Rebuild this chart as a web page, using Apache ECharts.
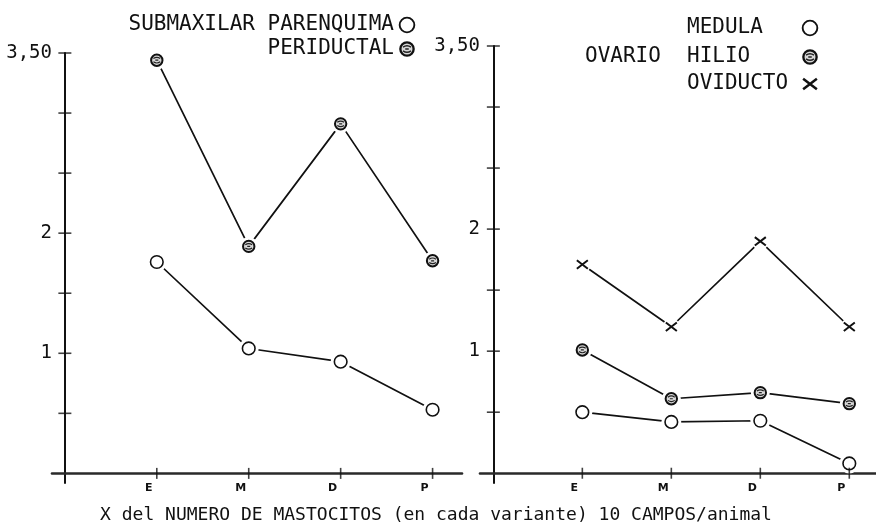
<!DOCTYPE html>
<html>
<head>
<meta charset="utf-8">
<script src="https://cdn.jsdelivr.net/npm/echarts@6/dist/echarts.min.js"></script>
<style>html,body{margin:0;padding:0;background:#fff;}#chart{width:876px;height:530px;}</style>
</head>
<body>
<div id="chart"></div>
<script>
// ---- data ----
const categories = ['E', 'M', 'D', 'P'];
const categoryPos = [1, 2, 3, 4];
// Submaxilar
const parenquima = [1.76, 1.04, 0.93, 0.53];
const periductal = [3.44, 1.89, 2.91, 1.77];
// Ovario
const medula = [0.50, 0.42, 0.43, 0.08];
const hilio = [1.01, 0.61, 0.66, 0.57];
const oviducto = [1.71, 1.20, 1.90, 1.20];
// axis ticks / labels
const yTickValues = [0.5, 1, 1.5, 2, 2.5, 3, 3.5];
const yLabelValues = [1, 2, 3.5];
const yLabelTexts = ['1', '2', '3,50'];
const caption = 'X del NUMERO DE MASTOCITOS (en cada variante) 10 CAMPOS/animal';

// ---- symbols ----
function svgUrl(s) { return 'image://data:image/svg+xml;utf8,' + encodeURIComponent(s); }
const openSym = svgUrl("<svg xmlns='http://www.w3.org/2000/svg' width='24' height='24' viewBox='0 0 24 24'><circle cx='12' cy='12' r='10' fill='white'/><circle cx='12' cy='12' r='6.3' fill='white' stroke='#111' stroke-width='1.6'/></svg>");
const hatchSym = svgUrl("<svg xmlns='http://www.w3.org/2000/svg' width='24' height='24' viewBox='0 0 24 24'><circle cx='12' cy='12' r='9.5' fill='white'/><circle cx='12' cy='12' r='5.7' fill='#d8d8d8' stroke='#111' stroke-width='2'/><path d='M8.6 10.4 q3.4 -2.4 6.8 0 M8.6 13.6 q3.4 2.4 6.8 0 M10.5 12 h3' stroke='#222' stroke-width='1.2' fill='none'/></svg>");
const crossSym = svgUrl("<svg xmlns='http://www.w3.org/2000/svg' width='24' height='24' viewBox='0 0 24 24'><circle cx='12' cy='12' r='8.5' fill='white'/><path d='M6.5 7.8 L17.5 16.2 M6.5 16.2 L17.5 7.8' stroke='#111' stroke-width='2' fill='none'/></svg>");

const FONT = "'DejaVu Sans Mono', monospace";
const ink = '#111';

function pairs(vals) { return vals.map((v, i) => [categoryPos[i], v]); }

function xAxis(grid, min, max) {
  return {
    gridIndex: grid, type: 'value', min: min, max: max, splitLine: { show: false },
    position: 'bottom',
    axisLine: { show: true, onZero: true, lineStyle: { color: '#2a2a2a', width: 2.6 } },
    axisTick: { show: false },
    axisLabel: { show: true, customValues: categoryPos, formatter: v => categories[Math.round(v) - 1] || '',
      fontFamily: 'DejaVu Sans', fontWeight: 'bold', fontSize: 11, color: ink, margin: 0, padding: [0, 16, 0, 0] }
  };
}
function yAxis(grid) {
  return {
    gridIndex: grid, type: 'value', min: -0.08, max: 3.5, splitLine: { show: false },
    position: 'left',
    axisLine: { show: true, onZero: true, lineStyle: { color: ink, width: 2 } },
    axisTick: { show: false },
    axisLabel: { show: true, customValues: yLabelValues,
      formatter: v => { const i = yLabelValues.indexOf(v); return i >= 0 ? yLabelTexts[i] : ''; },
      fontFamily: FONT, fontSize: 19, color: ink, margin: 0 }
  };
}
function line(name, grid, vals, sym, size) {
  return {
    name: name, type: 'line', xAxisIndex: grid, yAxisIndex: grid,
    data: pairs(vals), symbol: sym, symbolSize: size, showSymbol: true,
    lineStyle: { color: ink, width: 1.7 }, itemStyle: { color: ink },
    emphasis: { disabled: true }, silent: true, animation: false, z: 3
  };
}
// crossing tick marks, placed through the axes' own scales
function ticks(grid) {
  return [
    { type: 'scatter', xAxisIndex: grid, yAxisIndex: grid, silent: true, animation: false, z: 4,
      data: yTickValues.map(v => [0, v]), symbol: 'rect', symbolSize: [13, 1.6], itemStyle: { color: ink } },
    { type: 'scatter', xAxisIndex: grid, yAxisIndex: grid, silent: true, animation: false, z: 4,
      data: categoryPos.map(p => [p, 0]), symbol: 'rect', symbolSize: [1.6, 11], itemStyle: { color: ink } }
  ];
}

const txt = (text, x, y, align, size) => ({
  type: 'text', x: x, y: y,
  style: { text: text, fill: ink, font: (size || 21) + 'px ' + FONT, textAlign: align || 'left', textVerticalAlign: 'middle' }
});
const img = (src, cx, cy, s) => ({
  type: 'image', x: cx - s / 2, y: cy - s / 2,
  style: { image: src.replace('image://', ''), width: s, height: s }
});

const option = {
  backgroundColor: '#fff',
  animation: false,
  grid: [
    { left: 52, width: 410, top: 53, height: 430, outerBoundsMode: 'none', containLabel: false },
    { left: 480, width: 396, top: 46, height: 437, outerBoundsMode: 'none', containLabel: false }
  ],
  xAxis: [xAxis(0, -0.14, 4.32), xAxis(1, -0.15, 4.3)],
  yAxis: [yAxis(0), yAxis(1)],
  series: [].concat(
    ticks(0), ticks(1),
    [
      line('PARENQUIMA', 0, parenquima, openSym, 24),
      line('PERIDUCTAL', 0, periductal, hatchSym, 24),
      line('MEDULA', 1, medula, openSym, 24),
      line('HILIO', 1, hilio, hatchSym, 24),
      line('OVIDUCTO', 1, oviducto, crossSym, 24)
    ]),
  graphic: [
    txt('SUBMAXILAR PARENQUIMA', 394, 25, 'right'),
    txt('PERIDUCTAL', 394, 49, 'right'),
    img(openSym, 407, 25, 28),
    img(hatchSym, 407, 49, 28),
    txt('MEDULA', 687, 28, 'left'),
    txt('OVARIO', 585, 57, 'left'),
    txt('HILIO', 687, 57, 'left'),
    txt('OVIDUCTO', 687, 84, 'left'),
    img(openSym, 810, 28, 28),
    img(hatchSym, 810, 57, 28),
    img(crossSym, 810, 84, 30),
    txt(caption, 436, 515, 'center', 18)
  ]
};
const chart = echarts.init(document.getElementById('chart'), null, { renderer: 'canvas' });
chart.setOption(option);
</script>
</body>
</html>
